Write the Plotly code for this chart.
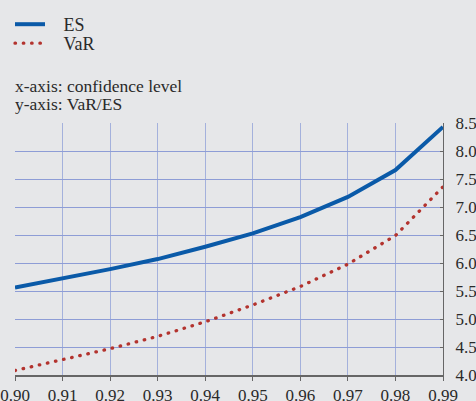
import plotly.graph_objects as go

conf_levels = [0.90, 0.91, 0.92, 0.93, 0.94, 0.95, 0.96, 0.97, 0.98, 0.99]
es_values = [5.56, 5.72, 5.89, 6.07, 6.29, 6.53, 6.82, 7.18, 7.66, 8.43]
var_values = [4.08, 4.28, 4.47, 4.69, 4.95, 5.25, 5.58, 5.98, 6.49, 7.36]
x_ticks = [0.90, 0.91, 0.92, 0.93, 0.94, 0.95, 0.96, 0.97, 0.98, 0.99]
x_tick_labels = ["0.90", "0.91", "0.92", "0.93", "0.94", "0.95", "0.96", "0.97", "0.98", "0.99"]
y_ticks = [4.0, 4.5, 5.0, 5.5, 6.0, 6.5, 7.0, 7.5, 8.0, 8.5]
y_tick_labels = ["4.0", "4.5", "5.0", "5.5", "6.0", "6.5", "7.0", "7.5", "8.0", "8.5"]

BG = "#e6e7e9"
GRID = "#a4b1dc"
GRID_H = "#8e9dd6"
ES_COLOR = "#0a5aa8"
VAR_COLOR = "#b3332e"
TEXT = "#2a2a2a"
FONT = "Liberation Serif"
PAD = "\u00a0\u00a0\u00a0"

fig = go.Figure()
fig.add_trace(go.Scatter(x=conf_levels, y=es_values, mode="lines", name=PAD + "ES",
                         line=dict(color=ES_COLOR, width=4), legend="legend"))
fig.add_trace(go.Scatter(x=conf_levels, y=var_values, mode="lines", name=PAD + "VaR",
                         line=dict(color=VAR_COLOR, width=3.3, dash="0.5px,7.8px"),
                         legend="legend2"))

legend_common = dict(xref="container", yref="container", xanchor="left", yanchor="top",
                     bgcolor="rgba(0,0,0,0)", font=dict(family=FONT, size=18, color=TEXT))

fig.update_layout(
    width=476, height=401,
    margin=dict(l=15, r=33, t=123, b=26, autoexpand=False),
    paper_bgcolor=BG, plot_bgcolor=BG,
    font=dict(family=FONT, size=17, color=TEXT),
    showlegend=True,
    legend=dict(x=10/476, y=1 - 6/401, **legend_common),
    legend2=dict(x=10/476, y=1 - 25/401, **legend_common),
    xaxis=dict(range=[0.90, 0.99], tickmode="array", tickvals=x_ticks, ticktext=x_tick_labels,
               showgrid=True, gridcolor=GRID, gridwidth=1,
               showline=True, linecolor="#666666", linewidth=1.5,
               ticks="outside", ticklen=4, tickcolor="#666666",
               tickfont=dict(family=FONT, size=17, color=TEXT), zeroline=False,
               automargin=False),
    yaxis=dict(range=[4.0, 8.5], tickmode="array", tickvals=y_ticks, ticktext=y_tick_labels,
               side="right", showgrid=True, gridcolor=GRID_H, gridwidth=1,
               showline=True, linecolor="#666666", linewidth=1.2,
               ticks="inside", ticklen=3, tickcolor="#666666", ticklabelstandoff=8,
               tickfont=dict(family=FONT, size=17, color=TEXT), zeroline=False,
               automargin=False),
    yaxis2=dict(range=[4.0, 8.5], tickmode="array", tickvals=y_ticks, ticktext=y_tick_labels,
                overlaying="y", side="left", showgrid=False,
                showline=True, linecolor="#707070", linewidth=2,
                ticks="", ticklabelstandoff=9,
                tickfont=dict(family=FONT, size=17, color=TEXT), zeroline=False,
                automargin=False),
    annotations=[
        dict(text="x-axis: confidence level", xref="paper", yref="paper",
             x=-2/428, y=(375-86)/252, xanchor="left", yanchor="middle", showarrow=False,
             font=dict(family=FONT, size=17.5, color=TEXT)),
        dict(text="y-axis: VaR/ES", xref="paper", yref="paper",
             x=-2/428, y=(375-104)/252, xanchor="left", yanchor="middle", showarrow=False,
             font=dict(family=FONT, size=17.5, color=TEXT)),
    ],
)

post = """
document.body.style.margin='0';document.body.style.padding='0';document.body.style.overflow='hidden';
function roundDots(){
  document.querySelectorAll('.js-line, .legendlines path').forEach(function(p){
    if ((p.style.strokeDasharray||'').length > 0 && p.style.strokeDasharray !== 'none') {
      p.style.strokeLinecap = 'round';
    }
  });
}
roundDots();
var gd = document.getElementById('{plot_id}');
if (gd && gd.on) { gd.on('plotly_afterplot', roundDots); }
"""

fig.write_html("out.html", config={"displayModeBar": False}, post_script=post)
